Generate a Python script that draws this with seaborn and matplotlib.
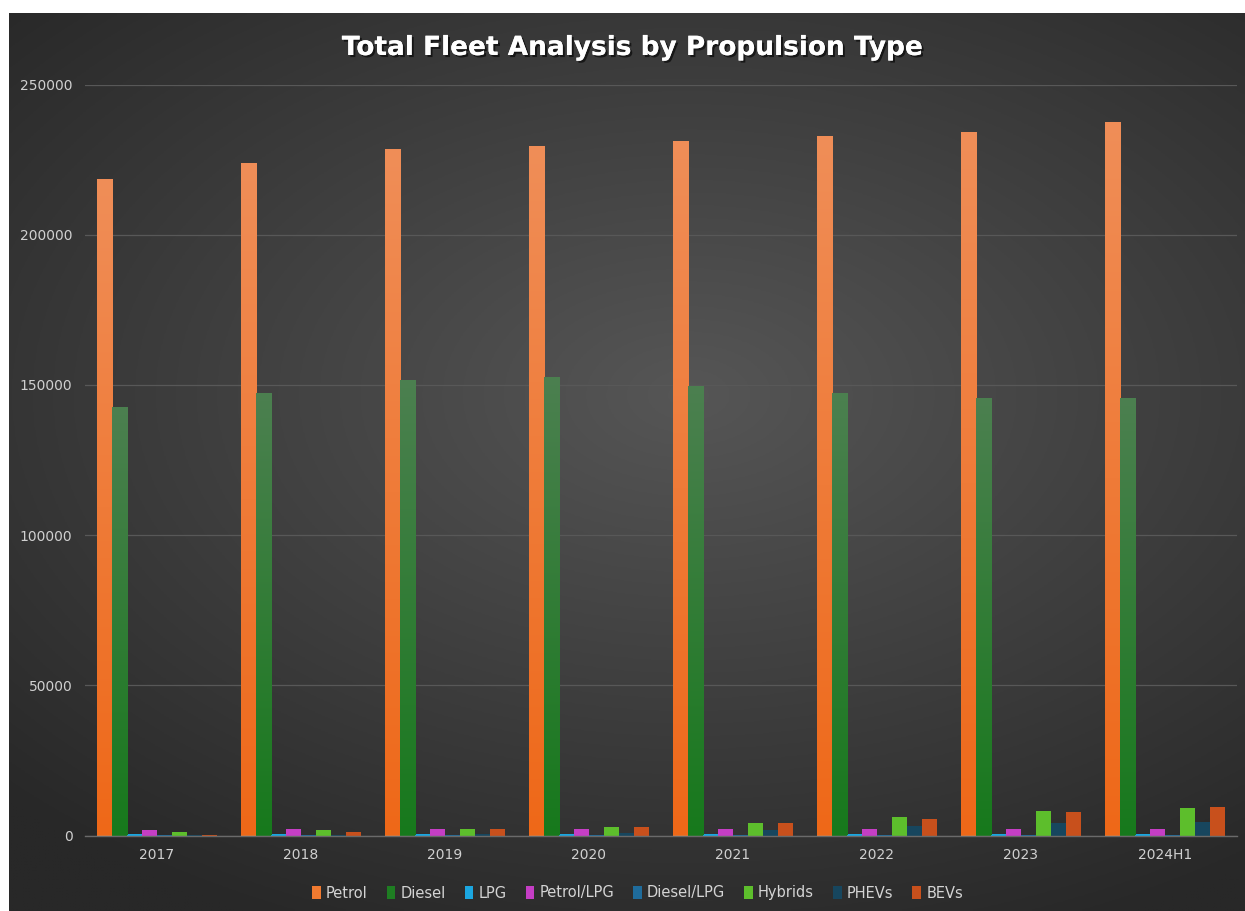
import numpy as np
import pandas as pd
import matplotlib
matplotlib.use("Agg")
import matplotlib.pyplot as plt
import matplotlib.patheffects as pe
from matplotlib.patches import Patch
import seaborn as sns

# ---- data ----
years = ["2017", "2018", "2019", "2020", "2021", "2022", "2023", "2024H1"]
petrol = [218400, 224000, 228500, 229500, 231300, 232800, 234100, 237600]
diesel = [142700, 147400, 151600, 152500, 149700, 147400, 145600, 145500]
lpg = [400, 400, 400, 400, 400, 400, 400, 400]
petrol_lpg = [1800, 2300, 2300, 2300, 2200, 2300, 2300, 2200]
diesel_lpg = [150, 150, 150, 150, 150, 150, 150, 150]
hybrids = [1000, 1900, 2300, 2800, 4300, 6100, 8300, 9100]
phevs = [150, 300, 600, 900, 1900, 3200, 4100, 4500]
bevs = [300, 1000, 2300, 2800, 4200, 5600, 7900, 9500]
series_names = ["Petrol", "Diesel", "LPG", "Petrol/LPG", "Diesel/LPG", "Hybrids", "PHEVs", "BEVs"]
series_vals = [petrol, diesel, lpg, petrol_lpg, diesel_lpg, hybrids, phevs, bevs]
yticks = [0, 50000, 100000, 150000, 200000, 250000]

colors = ["#F07A30", "#1E7D22", "#1BA6E0", "#C53EC5", "#1F6C9C", "#5DBE2C", "#17465E", "#C8501C"]
# gradient (top, bottom) for the two big series
grad = {"Petrol": ("#F08E58", "#EE6818"), "Diesel": ("#4C8050", "#17791C")}

rows = []
for name, vals in zip(series_names, series_vals):
    for y, v in zip(years, vals):
        rows.append({"Year": y, "Vehicles": v, "Type": name})
df = pd.DataFrame(rows)

W, H = 1245, 911
fig = plt.figure(figsize=(W / 100, H / 100), dpi=100, facecolor="white")

# background panel (radial dark gradient)
bg = fig.add_axes([9 / W, 0, 1 - 9 / W, 1 - 13 / H])
bg.set_axis_off()
gx, gy = np.meshgrid(np.linspace(-1, 1, 400), np.linspace(-1, 1, 300))
r = np.sqrt(((gx - 0.1) * 0.85) ** 2 + ((gy - 0.15) * 1.0) ** 2)
r = np.clip(r / 1.3, 0, 1)
c_in = np.array([0x56, 0x56, 0x56]) / 255
c_out = np.array([0x28, 0x28, 0x28]) / 255
img = c_in[None, None, :] * (1 - r[..., None]) + c_out[None, None, :] * r[..., None]
bg.imshow(img, extent=[0, 1, 0, 1], aspect="auto", origin="lower")
bg.set_xlim(0, 1)
bg.set_ylim(0, 1)

ax = fig.add_axes([85 / W, (H - 835.5) / H, (1237 - 85) / W, (835.5 - 84.5) / H])
ax.set_facecolor("none")

sns.barplot(data=df, x="Year", y="Vehicles", hue="Type", hue_order=series_names,
            order=years, palette=colors, width=0.84, gap=0, saturation=1,
            ax=ax, legend=False, edgecolor="none", linewidth=0)

# gradient fill for Petrol and Diesel bars
for cont, name in zip(ax.containers, series_names):
    if name in grad:
        top = np.array(matplotlib.colors.to_rgb(grad[name][0]))
        bot = np.array(matplotlib.colors.to_rgb(grad[name][1]))
        t = np.linspace(0, 1, 256)[:, None]
        g = (bot * (1 - t) + top * t)[:, None, :]
        for p in cont.patches:
            x0, y0 = p.get_x(), p.get_y()
            w, h = p.get_width(), p.get_height()
            im = ax.imshow(g, extent=[x0, x0 + w, y0, y0 + h], aspect="auto",
                           origin="lower", zorder=p.get_zorder() + 0.1)
            im.set_clip_path(p)

ax.set_xlim(-0.5, len(years) - 0.5)
ax.set_ylim(0, 250000)
ax.set_yticks(yticks)
ax.set_yticklabels([str(v) for v in yticks])
ax.grid(axis="y", color="#585858", linewidth=0.9)
ax.grid(axis="x", visible=False)
ax.set_axisbelow(True)
for s in ["top", "right", "left"]:
    ax.spines[s].set_visible(False)
ax.spines["bottom"].set_color("#6a6a6a")
ax.spines["bottom"].set_linewidth(1.0)
ax.tick_params(axis="both", length=0, colors="#d0d0d0", labelsize=10)
ax.tick_params(axis="y", pad=9)
ax.tick_params(axis="x", pad=9)
ax.set_xlabel("")
ax.set_ylabel("")

fig.text(0.508, 1 - 48 / H, "Total Fleet Analysis by Propulsion Type", ha="center", va="center",
         color="white", fontsize=19, fontweight="bold",
         path_effects=[pe.withSimplePatchShadow(offset=(1.5, -1.5), shadow_rgbFace="black", alpha=0.6),
                       pe.Normal()])

handles = [Patch(facecolor=c, edgecolor="none") for c in colors]
fig.legend(handles, series_names, loc="center", bbox_to_anchor=(0.512, 1 - 893 / H), ncol=8,
           frameon=False, fontsize=10.5, labelcolor="#d4d4d4", handlelength=0.6, handleheight=0.9,
           handletextpad=0.35, columnspacing=1.3)

fig.savefig("out.png", dpi=100, facecolor="white")
